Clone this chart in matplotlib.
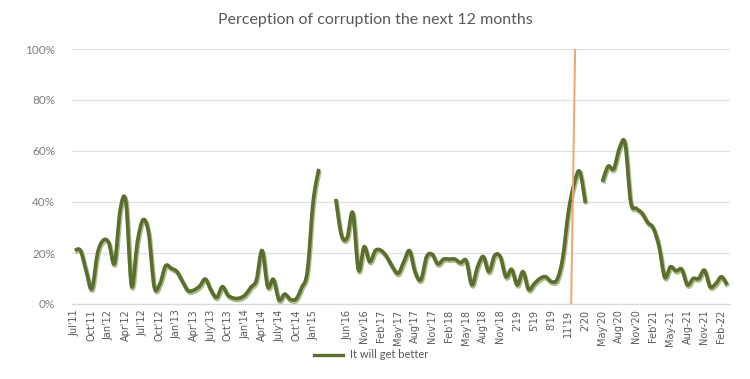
import numpy as np
import matplotlib
matplotlib.use("Agg")
import matplotlib.pyplot as plt
from matplotlib.path import Path
from matplotlib.patches import PathPatch
import matplotlib.patheffects as pe
from matplotlib.lines import Line2D

# ---- data (percent, monthly categories; None = missing) ----
values = [
    21, 21, 13, 6, 20, 25, 24, 16, 37, 40,
    7, 24, 33, 28, 6.7, 8, 15, 14, 12.7, 8.8,
    5.2, 5.5, 7, 9.8, 5.5, 2.6, 6.8, 3.5, 2.3, 2.3,
    3.5, 6.5, 9.4, 21, 6.8, 9.7, 1.6, 3.9, 1.8, 2,
    6.5, 13, 40, 53, None, None, 41.2, 27, 26, 35.8,
    13.3, 22.5, 16.6, 21, 21, 18.5, 14.6, 12, 16.6, 20.9,
    12.5, 9.5, 18.5, 19.5, 15.7, 17.6, 17.6, 17.6, 16.2, 17,
    7.5, 14.6, 18.6, 12.7, 19, 18.6, 10.7, 13.6, 7.5, 12.7,
    5.7, 8, 10, 10.7, 8.8, 9.5, 18, 36, 47, 52,
    39.7, None, None, 48, 54, 53, 61, 63, 40, 37.5,
    35.6, 32, 29.7, 22.5, 10.5, 14.6, 13, 13.6, 7.5, 10,
    10, 13.3, 6.8, 8, 10.7, 7.5,
]
tick_labels = [
    "Jul'11", "Oct'11", "Jan'12", "Apr'12", "Jul'12", "Oct'12", "Jan'13",
    "Apr'13", "July'13", "Oct'13", "Jan'14", "Apr'14", "July'14", "Oct'14",
    "Jan'15", "", "Jun'16", "Nov'16", "Feb'17", "May'17", "Aug'17", "Nov'17",
    "Feb'18", "May'18", "Aug'18", "Nov'18", "2'19", "5'19", "8'19", "11'19",
    "2'20", "May'20", "Aug'20", "Nov'20", "Feb'21", "May-21", "Aug-21",
    "Nov-21", "Feb-22",
]
series_name = "It will get better"
marker_line = [(87.5, 0.0), (88.2, 1.0)]  # orange reference line (category, fraction)

plt.rcParams['font.family'] = ['Lato', 'DejaVu Sans']

fig = plt.figure(figsize=(7.5, 3.79), dpi=100)
ax = fig.add_axes([72/750, 1-304/379, (730-72)/750, (304-49)/379])

line_color = '#5C6E2E'
shadow_color = '#A3B57E'


def smooth_segments(vals):
    """Catmull-Rom style (Excel-like) smoothing as Bezier path in data coords."""
    verts, codes = [], []
    n = len(vals)
    i = 0
    while i < n:
        if vals[i] is None:
            i += 1
            continue
        j = i
        while j + 1 < n and vals[j + 1] is not None:
            j += 1
        pts = [(k, vals[k] / 100.0) for k in range(i, j + 1)]
        verts.append(pts[0]); codes.append(Path.MOVETO)
        m = len(pts)
        for k in range(m - 1):
            p0 = np.array(pts[k - 1] if k > 0 else pts[k])
            p1 = np.array(pts[k]); p2 = np.array(pts[k + 1])
            p3 = np.array(pts[k + 2] if k + 2 < m else pts[k + 1])
            c1 = p1 + (p2 - p0) / 6.0
            c2 = p2 - (p3 - p1) / 6.0
            verts += [tuple(c1), tuple(c2), tuple(p2)]
            codes += [Path.CURVE4] * 3
        i = j + 1
    return Path(verts, codes)


path = smooth_segments(values)
patch = PathPatch(path, fill=False, edgecolor=line_color, lw=2.6, capstyle='butt',
                  joinstyle='round', zorder=3,
                  path_effects=[pe.SimpleLineShadow(offset=(0.6, -1.2), shadow_color=shadow_color,
                                                    alpha=0.9, linewidth=3.2),
                                pe.Normal()])
ax.add_patch(patch)

# orange line
ax.plot([marker_line[0][0], marker_line[1][0]], [marker_line[0][1], marker_line[1][1]],
        color='#F4A46A', lw=1.4, zorder=4)

n = len(values)
ax.set_xlim(-0.5, n - 0.5)
ax.set_ylim(0, 1)
ax.set_yticks(np.arange(0, 1.01, 0.2))
ax.set_yticklabels([f"{int(round(v*100))}%" for v in np.arange(0, 1.01, 0.2)],
                   color='#7F7F7F', fontsize=8.5)
ax.yaxis.grid(True, color='#E0E0E0', lw=0.9)
ax.set_axisbelow(True)
ax.tick_params(axis='y', length=0, pad=12)

xt = np.arange(0, 3 * len(tick_labels), 3)
ax.set_xticks(xt)
ax.set_xticklabels(tick_labels, rotation=90, fontsize=7, color='#595959',
                   family=['Liberation Sans Narrow', 'DejaVu Sans'])
ax.tick_params(axis='x', length=0, pad=4)

for s in ['top', 'right', 'left']:
    ax.spines[s].set_visible(False)
ax.spines['bottom'].set_color('#D9D9D9')
ax.spines['bottom'].set_linewidth(0.9)

fig.text(0.5, 1 - 20/379, "Perception of corruption the next 12 months",
         ha='center', va='center', fontsize=11.5, color='#595959')

handle = Line2D([0], [0], color=line_color, lw=2.4)
fig.legend([handle], [series_name], loc='center', bbox_to_anchor=(0.495, 1 - 355/379),
           frameon=False, fontsize=8, labelcolor='#595959', handlelength=2.6,
           handletextpad=0.6)

fig.savefig("out.png", dpi=100)
